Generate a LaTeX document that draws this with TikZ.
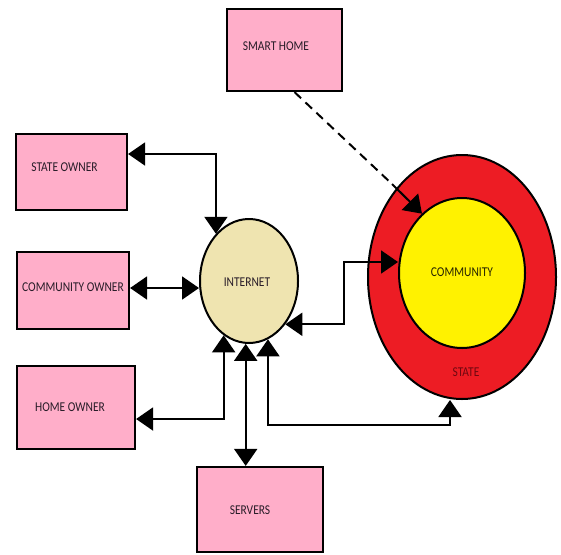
\documentclass[tikz,border=0pt]{standalone}
\usepackage{fontspec}
\newfontfamily\carl[FakeStretch=0.85]{Carlito}
\usetikzlibrary{arrows.meta,shapes.geometric}
\definecolor{rose}{HTML}{FFAEC9}
\definecolor{tanc}{HTML}{EFE4B0}
\definecolor{pred}{HTML}{ED1C24}
\definecolor{pyel}{HTML}{FFF200}
\definecolor{txt}{RGB}{40,28,40}
\definecolor{stxt}{RGB}{110,8,16}
\begin{document}
\begin{tikzpicture}[x=1pt,y=-1pt,
  >={Triangle[length=17pt,width=23pt]},
  lbl/.style={font={\carl\fontsize{13.5}{15}\selectfont},text=txt,inner sep=0pt},
  box/.style={draw,line width=2.2pt,fill=rose,inner sep=0pt},
  oval/.style={draw,line width=2pt,ellipse,inner sep=0pt},
  conn/.style={line width=2pt},
  dash line/.style={conn,dash pattern=on 9pt off 6pt}]
\fill[white] (0,0) rectangle (561,554);
\useasboundingbox (0,0) rectangle (561,554);

% boxes
\node[box,minimum width=115pt,minimum height=82pt,
  label={[lbl,xshift=-8.5pt,yshift=4pt]center:SMART HOME}] (sh) at (284.5,50) {};
\node[box,minimum width=111pt,minimum height=76pt,
  label={[lbl,xshift=-7pt,yshift=5pt]center:STATE OWNER}] (so) at (71.5,172) {};
\node[box,minimum width=112pt,minimum height=77pt,
  label={[lbl,xshift=0pt,yshift=3.5pt]center:COMMUNITY OWNER}] (co) at (73,290.5) {};
\node[box,minimum width=118pt,minimum height=83pt,
  label={[lbl,xshift=-6pt,yshift=0.5pt]center:HOME OWNER}] (ho) at (76,407.5) {};
\node[box,minimum width=126pt,minimum height=85pt,
  label={[lbl,xshift=-10pt,yshift=-0.5pt]center:SERVERS}] (sv) at (260,509.5) {};

% ellipses
\node[oval,fill=tanc,minimum width=98pt,minimum height=124pt,
  label={[lbl,xshift=-2pt,yshift=-1pt]center:INTERNET}] (inet) at (249,281) {};
\node[oval,fill=pred,minimum width=188pt,minimum height=244pt,
  label={[lbl,text=stxt,xshift=4pt,yshift=-95pt]center:STATE}] (st) at (462,277) {};
\node[oval,fill=pyel,minimum width=126pt,minimum height=150pt,
  label={[lbl,text=black!85!pyel,yshift=1pt]center:COMMUNITY}] (cm) at (462,273) {};

% helper coordinates
\coordinate (sb) at (450,425);
\coordinate (cc) at (344,262);
\coordinate (sd) at (392,184);

% connectors
\draw[conn,<->] ([yshift=18pt]so.east) -| (inet.125);
\draw[conn,<->] ([yshift=2.5pt]co.east) -- ([yshift=2.5pt]co.east -| inet.west);
\draw[conn,<->] ([yshift=-11.5pt]ho.east) -| (inet.245);
\draw[conn,<->] (inet.267) -- (inet.267 |- sv.north);
\draw[conn,<->] (inet.288) |- (sb) -- (sb |- st.south);
\draw[conn,<->] (inet.310) -| (cc) -- (cc -| cm.west);
\draw[dash line] ([xshift=10pt]sh.south) -- (sd);
\draw[conn,->] (sd) -- (cm.124);
\end{tikzpicture}
\end{document}
